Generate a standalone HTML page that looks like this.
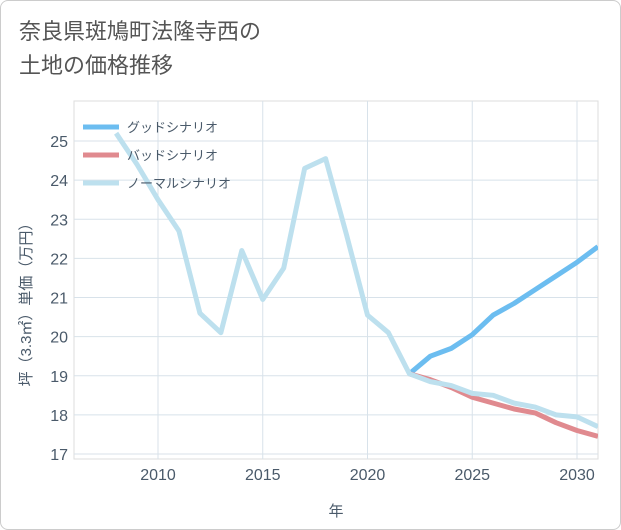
<!DOCTYPE html>
<html><head><meta charset="utf-8">
<style>
body{margin:0;background:#fff;}
#wrap{position:relative;width:619px;height:528px;border:1px solid #ccc;border-radius:8px;background:#fff;font-family:"Liberation Sans","Noto Sans CJK JP",sans-serif;overflow:hidden;}
#title{position:absolute;left:18px;top:14px;font-size:22px;line-height:34px;color:#555;font-family:"Liberation Sans","Noto Sans CJK JP",sans-serif;}
svg text{font-family:"Liberation Sans","Noto Sans CJK JP",sans-serif;}
</style></head><body>
<div id="wrap">
<div id="title">奈良県斑鳩町法隆寺西の<br>土地の価格推移</div>
<svg id="chart" width="621" height="530" style="position:absolute;left:0;top:0"></svg>
</div>
<script>
const years=[2008,2009,2010,2011,2012,2013,2014,2015,2016,2017,2018,2019,2020,2021,2022,2023,2024,2025,2026,2027,2028,2029,2030,2031];
const normalValues=[25.2,24.4,23.5,22.7,20.6,20.1,22.2,20.95,21.75,24.3,24.55,22.6,20.55,20.1,19.05,18.85,18.75,18.55,18.5,18.3,18.2,18.0,17.95,17.7];
const futureYears=[2022,2023,2024,2025,2026,2027,2028,2029,2030,2031];
const goodValues=[19.05,19.5,19.7,20.05,20.55,20.85,21.2,21.55,21.9,22.3];
const badValues=[19.05,18.9,18.7,18.45,18.3,18.15,18.05,17.8,17.6,17.45];
const xTicks=[2010,2015,2020,2025,2030];
const yTicks=[17,18,19,20,21,22,23,24,25];
const legendLabels=["グッドシナリオ","バッドシナリオ","ノーマルシナリオ"];

const NS="http://www.w3.org/2000/svg";
const svg=document.getElementById('chart');
const L=73,R=597,T=100,B=458;
const x=v=>157+(v-2010)*(576-157)/20;
const y=v=>453-(v-17)*(453-140)/8;
function mk(tag,attrs){const e=document.createElementNS(NS,tag);for(const k in attrs)e.setAttribute(k,attrs[k]);svg.appendChild(e);return e;}

const bg=mk('rect',{x:L,y:T,width:R-L,height:B-T,fill:'#fff',stroke:'#ddd'});


xTicks.forEach(t=>{
  const g=mk('line',{x1:x(t),x2:x(t),y1:T,y2:B,stroke:'#d8e2ea'});
  
  
  const tx=mk('text',{x:x(t),y:B+21,'text-anchor':'middle','font-size':16,fill:'#4a5a6a'});
  tx.textContent=t;
  
  
});
yTicks.forEach(t=>{
  const g=mk('line',{x1:L,x2:R,y1:y(t),y2:y(t),stroke:'#d8e2ea'});
  
  
  const tx=mk('text',{x:L-6,y:y(t)+6,'text-anchor':'end','font-size':16,fill:'#4a5a6a'});
  tx.textContent=t;
  
  
});
const xt=mk('text',{x:335,y:515,'text-anchor':'middle','font-size':15,fill:'#4a5a6a'});
xt.textContent='年';


const yt=mk('text',{x:0,y:0,'text-anchor':'middle','font-size':15,fill:'#4a5a6a',transform:'translate(30,300) rotate(-90)'});
yt.textContent='坪（3.3㎡）単価（万円）';



const clip=mk('clipPath',{id:'pc'});
const cr=document.createElementNS(NS,'rect');
cr.setAttribute('x',L);cr.setAttribute('y',T);cr.setAttribute('width',R-L);cr.setAttribute('height',B-T);
clip.appendChild(cr);

function line(xs,vs,color,name){
  const p=mk('polyline',{points:xs.map((v,i)=>x(v)+','+y(vs[i])).join(' '),fill:'none',stroke:color,'stroke-width':5,'stroke-linejoin':'round','clip-path':'url(#pc)'});
  
  
}
line(futureYears,goodValues,'#6cbdf0','good-scenario-line');
line(futureYears,badValues,'#e08a8f','bad-scenario-line');
line(years,normalValues,'#bde0ee','normal-scenario-line');

const lc=['#6cbdf0','#e08a8f','#bde0ee'];
legendLabels.forEach((lab,i)=>{
  const yy=126+i*28;
  const s=mk('line',{x1:82,x2:118,y1:yy,y2:yy,stroke:lc[i],'stroke-width':5});
  
  
  const t=mk('text',{x:126,y:yy+5,'font-size':13,fill:'#4a5a6a'});
  t.textContent=lab;
  
  
});
</script>
</body></html>
